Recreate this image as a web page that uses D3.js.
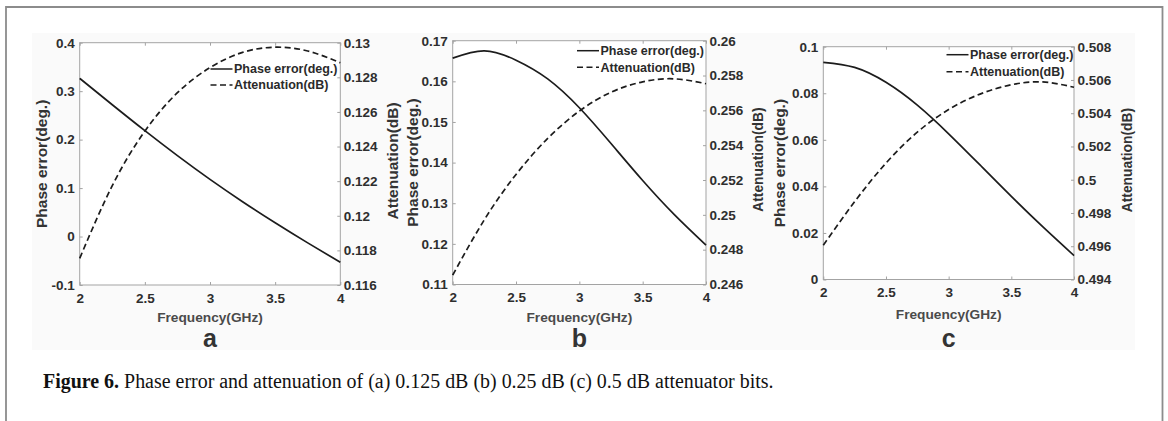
<!DOCTYPE html>
<html lang="en">
<head>
<meta charset="UTF-8">
<title>Figure 6</title>
<style>
  body { margin: 0; background: #fff; }
  svg { display: block; }
</style>
</head>
<body>
<svg width="1168" height="421"></svg>
<script src="https://d3js.org/d3.v7.min.js"></script>
<script>
// frequency samples (GHz)
var freq = [2, 2.25, 2.5, 2.75, 3, 3.25, 3.5, 3.75, 4]
var freqTicks = [2, 2.5, 3, 3.5, 4]

// (a) 0.125 dB bit
var phaseA = [0.3264, 0.2719, 0.2184, 0.1669, 0.1179, 0.0719, 0.0284, -0.0131, -0.0531]
var attenA = [0.11754, 0.12174, 0.12489, 0.12711, 0.12856, 0.12944, 0.12974, 0.12952, 0.12884]
var leftTicksA = [-0.1, 0, 0.1, 0.2, 0.3, 0.4]
var rightTicksA = [0.116, 0.118, 0.12, 0.122, 0.124, 0.126, 0.128, 0.13]

// (b) 0.25 dB bit
var phaseB = [0.1657, 0.1675, 0.1652, 0.1606, 0.1535, 0.1447, 0.1356, 0.1272, 0.1197]
var attenB = [0.24654, 0.24972, 0.25232, 0.25439, 0.25596, 0.25704, 0.25764, 0.25781, 0.25753]
var leftTicksB = [0.11, 0.12, 0.13, 0.14, 0.15, 0.16, 0.17]
var rightTicksB = [0.246, 0.248, 0.25, 0.252, 0.254, 0.256, 0.258, 0.26]

// (c) 0.5 dB bit
var phaseC = [0.0933, 0.0911, 0.0847, 0.0749, 0.0626, 0.0492, 0.0357, 0.0227, 0.0103]
var attenC = [0.49606, 0.49868, 0.50100, 0.50286, 0.50422, 0.50515, 0.50571, 0.50588, 0.50556]
var leftTicksC = [0, 0.02, 0.04, 0.06, 0.08, 0.1]
var rightTicksC = [0.494, 0.496, 0.498, 0.5, 0.502, 0.504, 0.506, 0.508]

var legendNames = ["Phase error(deg.)", "Attenuation(dB)"]
var panelLetters = ["a", "b", "c"]

var svg = d3.select("svg")
var fontSans = "'Liberation Sans', Arial, sans-serif"
var axisGray = "#a3a3a3"
var lineColor = "#1c1c1c"

// page frame + faint image background
svg.append("rect").attr("x", 32).attr("y", 33).attr("width", 1103).attr("height", 317).attr("fill", "#fafafa")
svg.append("path").attr("d", "M6,421V7H1162.5V421").attr("fill", "none").attr("stroke", "#8c8c8c").attr("stroke-width", 1.8)

// plot boxes in pixels
var panels = [
    { left: 79.7, right: 340.3, top: 42.7, bottom: 285, phase: phaseA, atten: attenA, lt: leftTicksA, rt: rightTicksA,
      leg: { x: 210.5, y: 69, dy: 16 }, lOff: 33, rOff: 58, rSize: 15.5, xTitle: 36.5 },
    { left: 452.7, right: 706, top: 40.7, bottom: 284.5, phase: phaseB, atten: attenB, lt: leftTicksB, rt: rightTicksB,
      leg: { x: 577, y: 50.7, dy: 16.6 }, lOff: 35, rOff: 56.5, rSize: 13.8, xTitle: 37 },
    { left: 823.3, right: 1074, top: 46.7, bottom: 279.5, phase: phaseC, atten: attenC, lt: leftTicksC, rt: rightTicksC,
      leg: { x: 946.5, y: 54.7, dy: 17 }, lOff: 38, rOff: 57.5, rSize: 13.8, xTitle: 39 }
]

panels.forEach(function (p, i) {
    var g = svg.append("g")
    var x = d3.scaleLinear().domain([2, 4]).range([p.left, p.right])
    var yL = d3.scaleLinear().domain([p.lt[0], p.lt[p.lt.length - 1]]).range([p.bottom, p.top])
    var yR = d3.scaleLinear().domain([p.rt[0], p.rt[p.rt.length - 1]]).range([p.bottom, p.top])
    var w = p.right - p.left
    var h = p.bottom - p.top

    g.append("rect").attr("x", p.left).attr("y", p.top).attr("width", w).attr("height", h)
        .attr("fill", "#fff").attr("stroke", axisGray).attr("stroke-width", 1)

    var fmt = function (d) { return String(+d.toFixed(4)) }

    var bottom = g.append("g").attr("transform", "translate(0," + p.bottom + ")")
        .call(d3.axisBottom(x).tickValues(freqTicks).tickFormat(fmt).tickSize(-3).tickSizeOuter(0).tickPadding(8))
    var top = g.append("g").attr("transform", "translate(0," + p.top + ")")
        .call(d3.axisTop(x).tickValues(freqTicks).tickFormat("").tickSize(-3).tickSizeOuter(0))
    var left = g.append("g").attr("transform", "translate(" + p.left + ",0)")
        .call(d3.axisLeft(yL).tickValues(p.lt).tickFormat(fmt).tickSize(-3).tickSizeOuter(0).tickPadding(5))
    var right = g.append("g").attr("transform", "translate(" + p.right + ",0)")
        .call(d3.axisRight(yR).tickValues(p.rt).tickFormat(fmt).tickSize(-3).tickSizeOuter(0).tickPadding(3.5))

    ;[bottom, top, left, right].forEach(function (a) {
        a.select(".domain").remove()
        a.selectAll("line").attr("stroke", axisGray)
        a.selectAll("text").attr("fill", "#2e2e2e").style("font-family", fontSans)
            .style("font-size", "13.5px").style("font-weight", "bold")
    })

    var pts = freq.map(function (f, k) { return [f, p.phase[k], p.atten[k]] })
    var linePhase = d3.line().x(function (d) { return x(d[0]) }).y(function (d) { return yL(d[1]) }).curve(d3.curveNatural)
    var lineAtten = d3.line().x(function (d) { return x(d[0]) }).y(function (d) { return yR(d[2]) }).curve(d3.curveNatural)

    g.append("path").attr("d", linePhase(pts)).attr("fill", "none").attr("stroke", lineColor).attr("stroke-width", 1.7)
    g.append("path").attr("d", lineAtten(pts)).attr("fill", "none").attr("stroke", lineColor).attr("stroke-width", 1.7)
        .attr("stroke-dasharray", "6,3.5")

    // axis titles
    g.append("text").attr("x", (p.left + p.right) / 2).attr("y", p.bottom + p.xTitle)
        .attr("text-anchor", "middle").attr("fill", "#4a4a4a")
        .style("font-family", fontSans).style("font-size", "13.7px").style("font-weight", "bold")
        .text("Frequency(GHz)")
    g.append("text").attr("transform", "translate(" + (p.left - p.lOff) + "," + (p.top + h / 2) + ") rotate(-90)")
        .attr("text-anchor", "middle").attr("fill", "#333")
        .style("font-family", fontSans).style("font-size", "15.5px").style("font-weight", "bold")
        .text(legendNames[0])
    g.append("text").attr("transform", "translate(" + (p.right + p.rOff) + "," + (p.top + h / 2 - 3) + ") rotate(-90)")
        .attr("text-anchor", "middle").attr("fill", "#333")
        .style("font-family", fontSans).style("font-size", p.rSize + "px").style("font-weight", "bold")
        .text(legendNames[1])

    // panel letter
    g.append("text").attr("x", (p.left + p.right) / 2).attr("y", 346.5)
        .attr("text-anchor", "middle").attr("fill", "#333")
        .style("font-family", fontSans).style("font-size", "25px").style("font-weight", "bold")
        .text(panelLetters[i])

    // legend
    legendNames.forEach(function (name, k) {
        var ly = p.leg.y + k * p.leg.dy
        g.append("line").attr("x1", p.leg.x).attr("x2", p.leg.x + 22).attr("y1", ly).attr("y2", ly)
            .attr("stroke", lineColor).attr("stroke-width", 1.5)
            .attr("stroke-dasharray", k === 1 ? "6,3.5" : null)
        g.append("text").attr("x", p.leg.x + 23.5).attr("y", ly).attr("dy", "0.35em")
            .attr("fill", "#2a2a2a")
            .style("font-family", fontSans).style("font-size", "12.5px").style("font-weight", "bold")
            .text(name)
    })
})

// caption
var cap = svg.append("text").attr("x", 43).attr("y", 388)
    .style("font-family", "'Liberation Serif', 'Times New Roman', serif").style("font-size", "19px").attr("fill", "#111")
cap.append("tspan").style("font-weight", "bold").text("Figure 6.")
cap.append("tspan").text(" Phase error and attenuation of (a) 0.125 dB (b) 0.25 dB (c) 0.5 dB attenuator bits.")
var capW = cap.node().getComputedTextLength()
cap.style("font-size", (19 * 731 / capW) + "px")
</script>
</body>
</html>
